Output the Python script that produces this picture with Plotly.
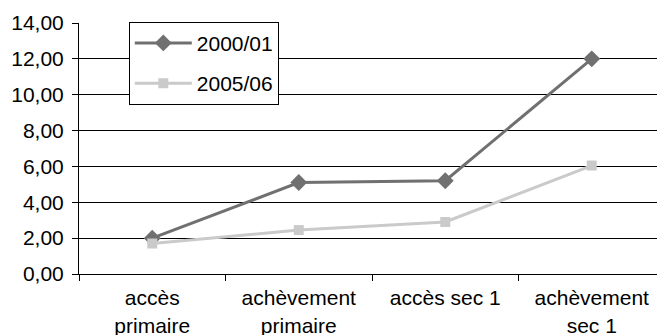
import plotly.graph_objects as go

categories = ["accès<br>primaire", "achèvement<br>primaire", "accès sec 1", "achèvement<br>sec 1"]
series_2000 = [2.0, 5.1, 5.2, 12.0]
series_2005 = [1.7, 2.45, 2.9, 6.05]
y_ticks = [0, 2, 4, 6, 8, 10, 12, 14]

fig = go.Figure()
fig.add_trace(go.Scatter(x=categories, y=series_2000, name="2000/01", mode="lines+markers",
                         line=dict(color="#707070", width=3),
                         marker=dict(symbol="diamond", size=13, color="#707070"),
                         legendgroup="a"))
fig.add_trace(go.Scatter(x=categories, y=series_2005, name="2005/06", mode="lines+markers",
                         line=dict(color="#cacaca", width=3),
                         marker=dict(symbol="square", size=10, color="#cacaca"),
                         legendgroup="b"))

fig.update_layout(
    width=657, height=327,
    margin=dict(l=71, r=0, t=15, b=61, autoexpand=False),
    paper_bgcolor="white", plot_bgcolor="white",
    font=dict(family="Liberation Sans, Arial", size=21, color="black"),
    separators=", ",
    showlegend=True,
    legend=dict(x=0.085, y=1.005, xanchor="left", yanchor="top",
                bordercolor="black", borderwidth=1, bgcolor="white",
                font=dict(size=21), tracegroupgap=10, itemwidth=57),
)
fig.update_xaxes(type="category", range=[-0.5, 3.5], showgrid=False,
                 showline=True, linecolor="black", linewidth=1,
                 ticks="outside", tickson="boundaries", ticklen=6, tickcolor="black",
                 ticklabelstandoff=5)
fig.update_yaxes(range=[0, 14], tickvals=y_ticks, tickformat=".2f",
                 showgrid=True, gridcolor="black", gridwidth=1,
                 showline=True, linecolor="black", linewidth=1,
                 ticks="outside", ticklen=6, tickcolor="black", zeroline=False,
                 ticklabelstandoff=4)

fig.write_html("out.html")
